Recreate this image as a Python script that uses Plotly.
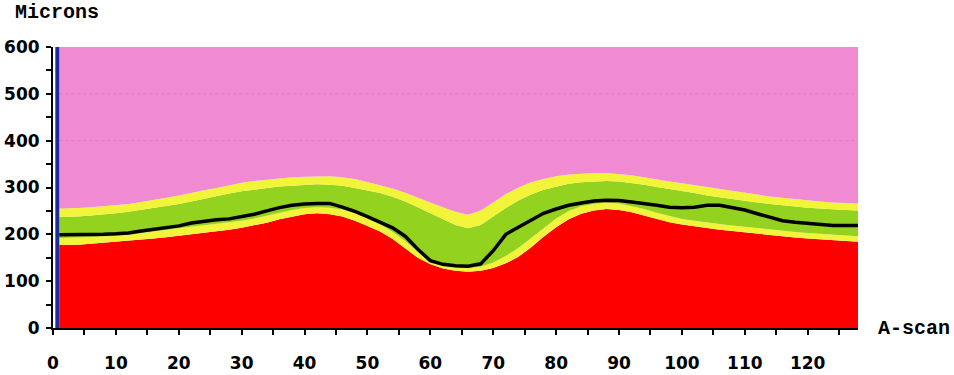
import plotly.graph_objects as go

# A-scan positions across the scan
ascan = [1, 2, 4, 6, 8, 10, 12, 14, 16, 18, 20, 22, 24, 26, 28, 30, 32, 34, 36, 38,
         40, 42, 44, 46, 48, 50, 52, 54, 56, 58, 60, 62, 64, 66, 68, 70, 72, 74, 76, 78,
         80, 82, 84, 86, 88, 90, 92, 94, 96, 98, 100, 102, 104, 106, 108, 110, 112, 114,
         116, 118, 120, 122, 124, 126, 128]

# Layer boundaries (microns)
red_top = [177, 177, 178, 180, 182, 184, 186, 188, 191, 194, 197, 200, 203, 206, 210,
           214, 219, 225, 232, 238, 243, 245, 243, 238, 229, 218, 206, 190, 170, 150,
           136, 127, 122, 120, 122, 128, 138, 152, 172, 195, 215, 232, 244, 251, 254,
           252, 247, 240, 233, 226, 221, 217, 213, 210, 207, 204, 201, 198, 196, 193,
           191, 189, 187, 185, 184]

yellow_low_top = [192, 192, 193, 194, 195, 197, 199, 202, 205, 209, 213, 216, 219, 222,
                  225, 229, 234, 240, 247, 252, 256, 258, 257, 253, 245, 235, 222, 205,
                  186, 164, 142, 133, 129, 128, 131, 140, 154, 171, 192, 215, 234, 250,
                  260, 265, 268, 266, 260, 254, 246, 239, 233, 229, 225, 222, 219, 216,
                  213, 210, 207, 205, 203, 201, 199, 197, 196]

green_top = [237, 237, 238, 240, 242, 245, 248, 252, 256, 260, 265, 270, 276, 281, 287,
             292, 296, 299, 302, 304, 306, 307, 306, 304, 299, 293, 288, 280, 270, 258,
             245, 232, 220, 213, 220, 238, 256, 272, 285, 295, 302, 308, 311, 313, 314,
             313, 310, 306, 301, 297, 292, 288, 283, 279, 275, 271, 268, 265, 262, 259,
             257, 255, 253, 252, 251]

yellow_up_top = [255, 255, 256, 258, 260, 262, 265, 269, 273, 278, 283, 289, 294, 299,
                 305, 310, 314, 317, 320, 322, 323, 324, 324, 322, 318, 312, 305, 298,
                 289, 278, 268, 258, 248, 242, 251, 268, 286, 300, 311, 318, 324, 328,
                 330, 331, 331, 329, 326, 322, 317, 313, 309, 305, 300, 296, 292, 288,
                 284, 281, 278, 275, 272, 270, 268, 267, 266]

thickness_line = [199, 199, 199, 200, 200, 201, 203, 207, 211, 214, 218, 224, 228, 231,
                  233, 238, 243, 250, 257, 262, 265, 266, 266, 258, 249, 238, 227, 214,
                  196, 168, 144, 136, 133, 132, 137, 165, 200, 215, 228, 245, 254, 262,
                  267, 271, 273, 272, 269, 266, 262, 258, 257, 258, 262, 262, 257, 252,
                  244, 237, 229, 226, 224, 222, 219, 219, 219]

scale_top = [600] * len(ascan)

x_ticks = [0, 10, 20, 30, 40, 50, 60, 70, 80, 90, 100, 110, 120]
y_ticks = [0, 100, 200, 300, 400, 500, 600]

RED = "#FF0000"
YELLOW = "#F2F43A"
GREEN = "#93D21F"
PINK = "#F08AD2"

fig = go.Figure()

layers = [
    (red_top, RED, "tozeroy"),
    (yellow_low_top, YELLOW, "tonexty"),
    (green_top, GREEN, "tonexty"),
    (yellow_up_top, YELLOW, "tonexty"),
    (scale_top, PINK, "tonexty"),
]
for vals, col, mode in layers:
    fig.add_trace(go.Scatter(
        x=ascan, y=vals, mode="lines", fill=mode, fillcolor=col,
        line=dict(width=0, color=col), hoverinfo="skip", showlegend=False,
    ))

fig.add_trace(go.Scatter(
    x=ascan, y=thickness_line, mode="lines",
    line=dict(color="black", width=3.5), hoverinfo="skip", showlegend=False,
))

tick_font = dict(family="DejaVu Sans", size=17, color="black", weight="bold")
label_font = dict(family="Courier New, Liberation Mono, monospace", size=20,
                  color="black", weight="bold")

fig.update_layout(
    width=954, height=375,
    margin=dict(l=53, r=96, t=47, b=47),
    paper_bgcolor="white", plot_bgcolor="white",
    xaxis=dict(
        range=[0, 128], tickvals=x_ticks, ticks="outside", ticklen=5, tickwidth=2,
        tickcolor="black", showline=True, linecolor="black", linewidth=2,
        showgrid=False, zeroline=False, tickfont=tick_font, ticklabelstandoff=14,
        automargin=False,
        minor=dict(dtick=5, ticks="outside", ticklen=5, tickwidth=2, tickcolor="black",
                   showgrid=False),
    ),
    yaxis=dict(
        range=[0, 600], tickvals=y_ticks, ticks="outside", ticklen=5, tickwidth=2,
        tickcolor="black", showline=True, linecolor="black", linewidth=2,
        showgrid=False, zeroline=False, tickfont=tick_font, ticklabelstandoff=3,
        automargin=False,
        minor=dict(dtick=50, ticks="outside", ticklen=5, tickwidth=2, tickcolor="black",
                   showgrid=False),
    ),
    shapes=[
        # faint dotted reference lines in the upper band
        dict(type="line", xref="x", yref="y", x0=1, x1=128, y0=500, y1=500,
             line=dict(color="rgba(190,80,160,0.25)", width=1, dash="dot"), layer="above"),
        dict(type="line", xref="x", yref="y", x0=1, x1=128, y0=400, y1=400,
             line=dict(color="rgba(190,80,160,0.25)", width=1, dash="dot"), layer="above"),
        # blue marker bar along the left edge of the scan
        dict(type="rect", xref="x", yref="y", x0=0.37, x1=1.0, y0=0, y1=600,
             fillcolor="#1E2B9C", line=dict(width=0), layer="above"),
    ],
    annotations=[
        dict(text="Microns", xref="paper", yref="paper", x=(13 - 53) / 805,
             y=1 + 34 / 281, xanchor="left", yanchor="middle", showarrow=False,
             font=label_font),
        dict(text="A-scan", xref="paper", yref="paper", x=1 + 18 / 805, y=0,
             xanchor="left", yanchor="middle", showarrow=False, font=label_font),
    ],
)

fig.write_html("out.html")
